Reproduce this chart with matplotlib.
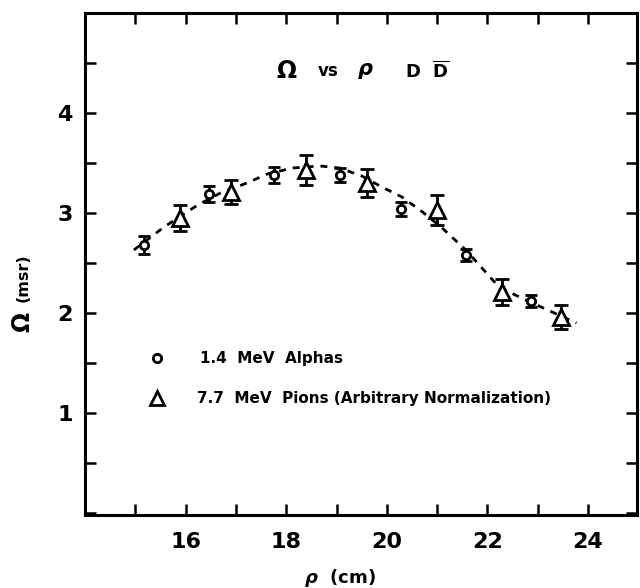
import numpy as np
import matplotlib.pyplot as plt
from matplotlib.ticker import MultipleLocator

# 1.4 MeV alphas (circles)
alpha_rho = [15.17, 16.47, 17.76, 19.06, 20.29, 21.57, 22.86]
alpha_omega = [2.68, 3.19, 3.38, 3.38, 3.04, 2.58, 2.12]
alpha_err = [0.09, 0.08, 0.08, 0.07, 0.07, 0.06, 0.06]

# 7.7 MeV pions (triangles)
pion_rho = [15.88, 16.90, 18.39, 19.60, 20.99, 22.28, 23.47]
pion_omega = [2.95, 3.21, 3.43, 3.30, 3.03, 2.21, 1.96]
pion_err = [0.13, 0.12, 0.15, 0.14, 0.15, 0.13, 0.12]

# dashed guide curve
curve_rho = [14.97, 15.57, 16.24, 16.69, 17.22, 17.62, 18.13, 18.67, 19.06, 19.5,
             19.9, 20.3, 20.71, 21.1, 21.57, 22.23, 22.76, 23.2, 23.77]
curve_omega = [2.63, 2.86, 3.08, 3.20, 3.30, 3.39, 3.45, 3.47, 3.45, 3.37,
               3.26, 3.16, 3.01, 2.85, 2.63, 2.26, 2.13, 2.03, 1.90]

plt.rcParams['font.family'] = ['DejaVu Sans']
plt.rcParams['font.weight'] = 'bold'

fig = plt.figure(figsize=(6.4, 5.88), dpi=100)
ax = fig.add_axes([0.133, 0.124, 0.862, 0.854])

ax.plot(curve_rho, curve_omega, color='black', lw=2, ls=(0, (2.5, 2.5)))

ax.errorbar(alpha_rho, alpha_omega, yerr=alpha_err, fmt='o', ms=6, mfc='white',
            mec='black', mew=2, ecolor='black', elinewidth=2, capsize=4, capthick=2)
ax.errorbar(pion_rho, pion_omega, yerr=pion_err, fmt='^', ms=12, mfc='white',
            mec='black', mew=2, ecolor='black', elinewidth=2, capsize=5, capthick=2)

# legend drawn as in the original
ax.plot([15.43], [1.55], 'o', ms=6, mfc='white', mec='black', mew=2)
ax.plot([15.43], [1.15], '^', ms=10, mfc='white', mec='black', mew=2)
ax.text(16.28, 1.55, '1.4  MeV  Alphas', fontsize=11, fontweight='bold', va='center')
ax.text(16.22, 1.15, '7.7  MeV  Pions (Arbitrary Normalization)', fontsize=11,
        fontweight='bold', va='center')

# title lettering inside the frame
ax.text(17.8, 4.42, r'$\mathbf{\Omega}$', fontsize=17, va='center')
ax.text(18.63, 4.42, 'vs', fontsize=12, fontweight='bold', va='center')
ax.text(19.4, 4.42, r'$\rho$', fontsize=15, va='center')
ax.text(20.37, 4.42, r'D  $\overline{\mathrm{D}}$', fontsize=13, fontweight='bold',
        va='center')

ax.set_xlim(14.0, 24.97)
ax.set_ylim(-0.02, 5.0)
ax.xaxis.set_minor_locator(MultipleLocator(1))
ax.yaxis.set_minor_locator(MultipleLocator(0.5))
ax.set_xticks([16, 18, 20, 22, 24])
ax.set_yticks([1, 2, 3, 4])
ax.tick_params(which='both', direction='in', top=True, right=True, length=8, width=1.8,
               labelsize=16)
ax.tick_params(axis='x', pad=12)
ax.tick_params(axis='y', pad=9)
for lab in ax.get_xticklabels() + ax.get_yticklabels():
    lab.set_fontweight('bold')
for sp in ax.spines.values():
    sp.set_linewidth(2.2)

# axis labels placed like the original lettering
fig.text(340 / 640, 1 - 578 / 588, r'$\rho$  (cm)', fontsize=13, fontweight='bold',
         ha='center', va='center')
fig.text(23 / 640, 1 - 322 / 588, r'$\mathbf{\Omega}$', rotation=90, fontsize=17,
         ha='center', va='center')
fig.text(23 / 640, 1 - 278 / 588, '(msr)', rotation=90, fontsize=11.5, fontweight='bold',
         ha='center', va='center')

fig.savefig('out.png', dpi=100)
